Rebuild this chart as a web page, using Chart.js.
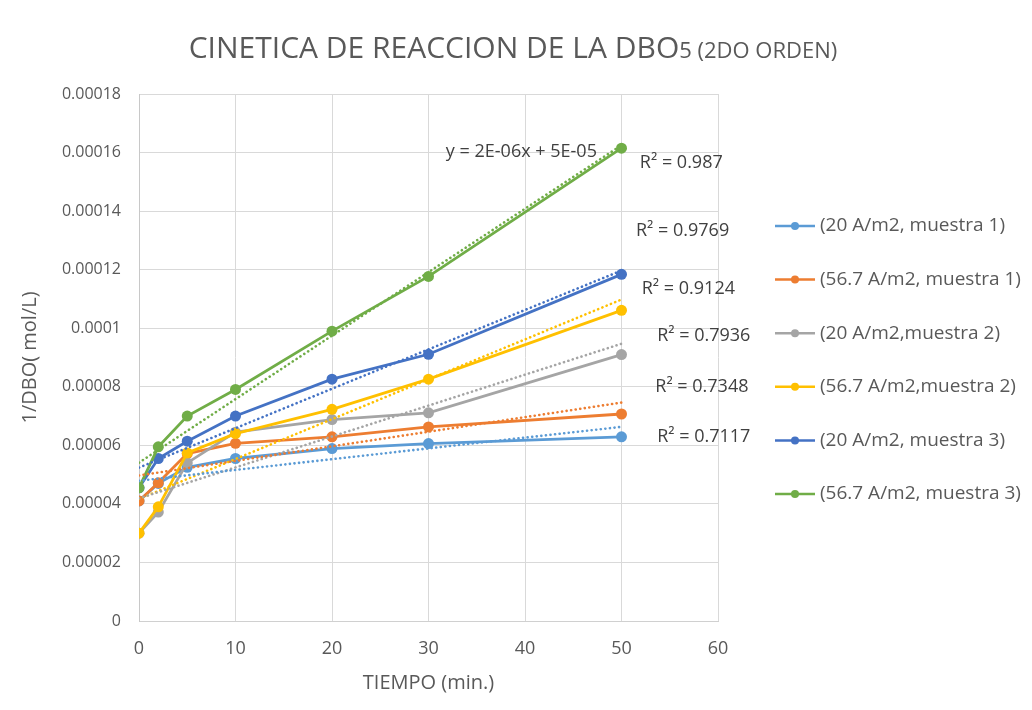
<!DOCTYPE html>
<html>
<head>
<meta charset="utf-8">
<script src="https://cdn.jsdelivr.net/npm/chart.js@4.4.1/dist/chart.umd.min.js"></script>
<style>
html, body { margin: 0; padding: 0; background: #fff; }
#wrap { width: 1032px; height: 710px; }
</style>
</head>
<body>
<div id="wrap"><canvas id="c_dbo"></canvas></div>
<script>
const tiempo = [0, 2, 5, 10, 20, 30, 50];

const nombres = ['(20 A/m2, muestra 1)', '(56.7 A/m2, muestra 1)', '(20 A/m2,muestra 2)',
    '(56.7 A/m2,muestra 2)', '(20 A/m2, muestra 3)', '(56.7 A/m2, muestra 3)'];

const m1_20 = [0.000041, 0.000047, 0.0000525, 0.0000555, 0.0000589, 0.0000606, 0.0000629];
const m1_567 = [0.000041, 0.0000472, 0.0000572, 0.0000607, 0.0000629, 0.0000663, 0.0000707];
const m2_20 = [0.00003, 0.0000372, 0.000054, 0.0000645, 0.0000688, 0.0000711, 0.000091];
const m2_567 = [0.00003, 0.000039, 0.0000574, 0.000064, 0.0000723, 0.0000826, 0.0001061];
const m3_20 = [0.0000455, 0.0000555, 0.0000614, 0.00007, 0.0000826, 0.0000911, 0.0001184];
const m3_567 = [0.0000455, 0.0000595, 0.00007, 0.0000791, 0.000099, 0.0001177, 0.0001615];

// lineas de tendencia (lectura en x = 0 y x = 50)
const tendInicio = [0.0000479, 0.0000497, 0.0000419, 0.0000417, 0.0000524, 0.0000541];
const tendFin = [0.0000663, 0.0000746, 0.0000947, 0.0001098, 0.0001197, 0.0001625];

const r2 = ['R² = 0.7117', 'R² = 0.7348', 'R² = 0.7936', 'R² = 0.9124', 'R² = 0.9769', 'R² = 0.987'];
const ecuacion = 'y = 2E-06x + 5E-05';

const yLabels = ['0', '0.00002', '0.00004', '0.00006', '0.00008', '0.0001', '0.00012', '0.00014', '0.00016', '0.00018'];
const xLabels = ['0', '10', '20', '30', '40', '50', '60'];

const series = [m1_20, m1_567, m2_20, m2_567, m3_20, m3_567];
const colores = ['#5B9BD5', '#ED7D31', '#A5A5A5', '#FFC000', '#4472C4', '#70AD47'];

var datasets = [];
series.forEach((s, i) => {
    datasets.push({
        label: nombres[i],
        data: tiempo.map((t, j) => ({x: t, y: s[j]})),
        borderColor: colores[i],
        backgroundColor: colores[i],
        borderWidth: 2.8,
        pointRadius: 5.5,
        pointBorderWidth: 0,
        order: 10 - i
    });
});
series.forEach((s, i) => {
    datasets.push({
        label: 'tend ' + i,
        data: [{x: 0, y: tendInicio[i]}, {x: 50, y: tendFin[i]}],
        borderColor: colores[i],
        borderWidth: 2.6,
        borderDash: [0.1, 4.5],
        borderCapStyle: 'round',
        pointRadius: 0,
        order: 0
    });
});

// leyenda, ecuacion, R2 y titulo
const anotaciones = {
    id: 'anotaciones',
    afterDatasetsDraw(chart) {
        const {ctx, scales: {x, y}} = chart;
        ctx.save();
        ctx.fillStyle = '#404040';
        ctx.font = '18px "Open Sans"';
        ctx.textBaseline = 'middle';
        ctx.textAlign = 'left';
        ctx.fillText(ecuacion, x.getPixelForValue(31.8), y.getPixelForValue(0.0001603));
        const pos = [[53.7, 0.0000629], [53.5, 0.0000799], [53.7, 0.0000974],
            [52.1, 0.0001134], [51.5, 0.0001332], [51.9, 0.0001564]];
        pos.forEach((p, i) => {
            ctx.fillText(r2[i], x.getPixelForValue(p[0]), y.getPixelForValue(p[1]));
        });
        ctx.restore();
    },
    afterDraw(chart) {
        const ctx = chart.ctx;
        ctx.save();
        // leyenda
        ctx.font = '19px "Open Sans"';
        ctx.textBaseline = 'middle';
        ctx.textAlign = 'left';
        nombres.forEach((n, i) => {
            const yy = 226 + i * 53.6;
            ctx.strokeStyle = colores[i];
            ctx.lineWidth = 2.5;
            ctx.beginPath();
            ctx.moveTo(775, yy);
            ctx.lineTo(815, yy);
            ctx.stroke();
            ctx.fillStyle = colores[i];
            ctx.beginPath();
            ctx.arc(795, yy, 4, 0, Math.PI * 2);
            ctx.fill();
            ctx.fillStyle = '#595959';
            ctx.fillText(n, 820, yy);
        });
        // titulo
        const t1 = 'CINETICA DE REACCION DE LA DBO';
        const t2 = '5 (2DO ORDEN)';
        ctx.fillStyle = '#595959';
        ctx.textBaseline = 'alphabetic';
        ctx.font = '30px "Open Sans"';
        const w1 = ctx.measureText(t1).width;
        ctx.font = '22px "Open Sans"';
        const w2 = ctx.measureText(t2).width;
        const x0 = 513 - (w1 + w2) / 2;
        ctx.font = '30px "Open Sans"';
        ctx.fillText(t1, x0, 58);
        ctx.font = '22px "Open Sans"';
        ctx.fillText(t2, x0 + w1, 58);
        ctx.restore();
    }
};

const c_dbo = document.getElementById('c_dbo');
var chart_dbo = new Chart(c_dbo, {
    type: 'line',
    data: {datasets: datasets},
    options: {
        responsive: true,
        maintainAspectRatio: false,
        animation: false,
        layout: {
            padding: {top: 94, right: 314, bottom: 0, left: 0}
        },
        plugins: {
            title: {display: false},
            tooltip: {enabled: false},
            legend: {display: false}
        },
        scales: {
            x: {
                type: 'linear',
                min: 0,
                max: 60,
                ticks: {
                    stepSize: 10,
                    padding: 17,
                    color: '#595959',
                    font: {family: 'Open Sans', size: 18},
                    callback: (v, i) => xLabels[i]
                },
                grid: {color: '#d9d9d9', drawTicks: false},
                border: {color: '#d0d0d0'},
                title: {
                    display: true,
                    text: 'TIEMPO (min.)',
                    color: '#595959',
                    font: {family: 'Open Sans', size: 20},
                    padding: {top: 0, bottom: 15}
                },
                afterFit: (scale) => { scale.height = 89; }
            },
            y: {
                min: 0,
                max: 0.00018,
                ticks: {
                    stepSize: 0.00002,
                    padding: 18,
                    color: '#595959',
                    font: {family: 'Open Sans', size: 16},
                    callback: (v, i) => yLabels[i]
                },
                grid: {color: '#d9d9d9', drawTicks: false},
                border: {color: '#c8c8c8'},
                title: {
                    display: true,
                    text: '1/DBO( mol/L)',
                    color: '#595959',
                    font: {family: 'Open Sans', size: 20},
                    padding: {top: 18, bottom: 0}
                },
                afterFit: (scale) => { scale.width = 139; }
            }
        }
    },
    plugins: [anotaciones]
});
</script>
</body>
</html>
